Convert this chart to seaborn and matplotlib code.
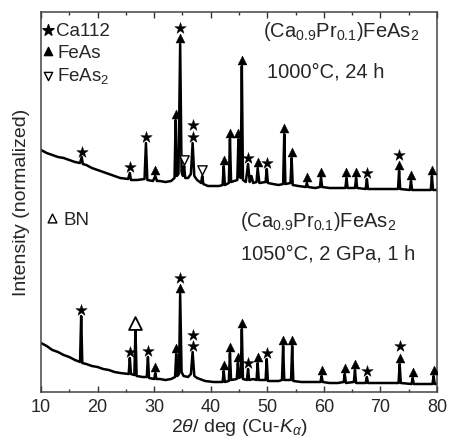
import numpy as np
import pandas as pd
import matplotlib
matplotlib.use("Agg")
import matplotlib.pyplot as plt
import seaborn as sns

# ---------------- data ----------------
# upper pattern: (Ca0.9Pr0.1)FeAs2, 1000 C, 24 h
tt_top = [10.0, 11.0, 12.0, 13.0, 14.0, 15.0, 16.0, 16.9, 17.2, 17.4, 18.0, 19.0,
          20.0, 21.0, 22.0, 23.0, 24.0, 25.4, 25.7, 25.9, 27.0, 28.3, 28.55, 28.8,
          29.8, 30.2, 30.5, 31.0, 32.0, 33.0, 33.6, 33.8, 34.0, 34.3, 34.6, 34.85,
          35.1, 35.3, 35.5, 36.0, 36.5, 36.8, 37.1, 37.6, 38.3, 38.5, 38.7, 39.5,
          40.5, 41.5, 42.1, 42.3, 42.5, 43.2, 43.4, 43.6, 44.7, 44.9, 45.1, 45.3,
          45.5, 45.7, 46.2, 46.6, 46.9, 47.2, 47.5, 48.1, 48.3, 48.6, 49.7, 49.9,
          50.1, 51.0, 52.0, 52.8, 53.0, 53.2, 54.1, 54.3, 54.5, 55.5, 56.8, 57.0,
          57.2, 58.5, 59.3, 59.5, 59.7, 61.0, 62.5, 63.8, 64.0, 64.2, 65.5, 65.7,
          65.9, 67.4, 67.6, 67.8, 69.0, 70.5, 72.0, 73.1, 73.3, 73.5, 75.2, 75.4,
          75.6, 77.0, 78.9, 79.1, 79.3, 80.0]
int_top = [242, 239, 237, 235, 234, 232, 230, 229, 235, 228, 227, 224,
           222, 220, 218, 216, 214, 213, 219, 212, 212, 213, 249, 212,
           211, 216, 211, 211, 210, 211, 214, 272, 216, 218, 348, 220,
           216, 226, 214, 214, 218, 249, 216, 212, 209, 216, 208, 206,
           206, 206, 207, 226, 207, 209, 253, 210, 212, 253, 215, 214,
           326, 212, 210, 228, 210, 216, 209, 210, 224, 209, 210, 223,
           209, 208, 207, 208, 258, 208, 209, 234, 207, 206, 205, 209,
           205, 204, 205, 214, 205, 204, 204, 204, 214, 204, 204, 214,
           204, 203, 213, 203, 203, 203, 203, 203, 221, 203, 202, 211,
           202, 202, 202, 216, 202, 202]

# lower pattern: (Ca0.9Pr0.1)FeAs2, 1050 C, 2 GPa, 1 h
tt_bot = [10.0, 11.0, 12.0, 13.0, 14.0, 15.0, 16.0, 16.9, 17.1, 17.3, 18.0, 19.0,
          20.0, 21.0, 22.0, 23.0, 24.0, 25.5, 25.7, 25.9, 26.5, 26.7, 26.9, 28.0,
          28.7, 28.9, 29.1, 30.0, 30.2, 30.4, 31.0, 32.0, 33.0, 33.7, 33.9, 34.1,
          34.4, 34.6, 34.85, 35.2, 36.0, 36.5, 36.8, 37.1, 37.6, 39.0, 40.5, 42.1,
          42.3, 42.5, 43.2, 43.4, 43.6, 44.6, 44.8, 45.0, 45.3, 45.5, 45.7, 46.4,
          46.6, 46.8, 47.5, 48.1, 48.3, 48.5, 49.7, 49.9, 50.1, 51.0, 52.0, 52.6,
          52.8, 53.0, 54.2, 54.4, 54.6, 56.0, 58.0, 59.4, 59.6, 59.8, 61.0, 62.5,
          63.5, 63.7, 63.9, 65.3, 65.5, 65.7, 67.4, 67.6, 67.8, 69.0, 70.5, 72.0,
          73.2, 73.4, 73.6, 75.5, 75.7, 75.9, 77.0, 79.2, 79.4, 79.6, 80.0]
int_bot = [49, 46, 42, 40, 37, 35, 32, 30, 76, 29, 28, 26,
           25, 23, 22, 20, 19, 18, 34, 18, 17, 63, 16, 15,
           15, 35, 14, 13, 19, 13, 13, 12, 13, 15, 38, 16,
           18, 98, 20, 16, 15, 18, 40, 16, 14, 11, 10, 10,
           21, 10, 11, 39, 12, 13, 29, 14, 15, 63, 13, 12,
           23, 12, 13, 12, 29, 12, 12, 33, 11, 11, 11, 12,
           46, 12, 12, 46, 11, 10, 10, 10, 16, 10, 9, 9,
           10, 18, 9, 10, 22, 9, 9, 15, 9, 9, 9, 9,
           9, 28, 9, 8, 14, 8, 8, 8, 16, 8, 8]

# phase markers (2theta, height)
ca112_x = [17.2, 25.7, 28.55, 34.6, 36.8, 36.8, 46.6, 49.9, 67.6, 73.3,
           17.1, 25.7, 28.9, 34.6, 36.8, 36.8, 46.6, 49.9, 67.6, 73.4]
ca112_y = [240, 225, 255, 364, 267, 255, 234, 229, 219, 237,
           82, 40, 41, 114, 57, 46, 29, 39, 21, 46]
feas_x = [30.2, 33.8, 34.6, 42.3, 43.4, 44.9, 45.5, 48.3, 53.0, 54.3, 57.0, 59.5,
          64.0, 65.7, 73.3, 75.4, 79.1,
          30.2, 33.9, 34.6, 42.3, 43.4, 44.8, 45.5, 48.3, 52.8, 54.4, 59.6, 63.7,
          65.5, 73.4, 75.7, 79.4]
feas_y = [222, 278, 354, 232, 259, 259, 332, 230, 264, 240, 215, 220,
          220, 220, 227, 217, 222,
          25, 44, 104, 27, 45, 35, 69, 35, 52, 52, 22, 24,
          28, 34, 20, 22]
feas2_x = [35.3, 38.5]
feas2_y = [232, 222]
bn_x = [26.7]
bn_y = [69]

# ---------------- plotting ----------------
sns.set_theme(style="white")
plt.rcParams["font.family"] = ["Liberation Sans", "DejaVu Sans"]
plt.rcParams["mathtext.fontset"] = "custom"
plt.rcParams["mathtext.rm"] = "Liberation Sans"
plt.rcParams["mathtext.it"] = "Liberation Sans:italic"

fig = plt.figure(figsize=(4.53, 4.43), dpi=100)
ax = fig.add_axes([41 / 453, 1 - 392 / 443, (437 - 41) / 453, (392 - 12) / 443])

df_top = pd.DataFrame({"tt": tt_top, "I": int_top})
df_bot = pd.DataFrame({"tt": tt_bot, "I": int_bot})
sns.lineplot(data=df_top, x="tt", y="I", ax=ax, color="black", lw=1.8,
             estimator=None, sort=False)
sns.lineplot(data=df_bot, x="tt", y="I", ax=ax, color="black", lw=1.8,
             estimator=None, sort=False)

sns.scatterplot(x=ca112_x, y=ca112_y, ax=ax, marker="*", s=75, color="black",
                edgecolor="black", linewidth=0.3, zorder=5)
sns.scatterplot(x=feas_x, y=feas_y, ax=ax, marker="^", s=42, color="black",
                edgecolor="black", linewidth=0.3, zorder=5)
sns.scatterplot(x=feas2_x, y=feas2_y, ax=ax, marker="v", s=45, facecolor="white",
                edgecolor="black", linewidth=1.0, zorder=5)
sns.scatterplot(x=bn_x, y=bn_y, ax=ax, marker="^", s=85, facecolor="white",
                edgecolor="black", linewidth=1.3, zorder=5)

ax.set_xlim(10, 80)
ax.set_ylim(0, 380)
ax.set_xticks([10, 20, 30, 40, 50, 60, 70, 80])
ax.set_xticks(np.arange(15, 80, 10), minor=True)
ax.set_yticks([])
ax.tick_params(axis="x", which="major", direction="in", length=4, width=1,
               top=True, bottom=True, labelsize=13, pad=5, color="#333333")
ax.tick_params(axis="x", which="minor", direction="in", length=2.5, width=1,
               top=True, bottom=True, color="#333333")
for sp in ax.spines.values():
    sp.set_color("#444444")
    sp.set_linewidth(1.1)

ax.set_xlabel(r"2$\it{\theta}$/ deg (Cu-$\it{K}_\alpha$)", fontsize=14, labelpad=1)
ax.set_ylabel("Intensity (normalized)", fontsize=14, labelpad=8)

# legend-like labels
ax.scatter([11.3], [362], marker="*", s=70, color="black", zorder=5)
ax.text(12.7, 355.5, "Ca112", fontsize=13.5, va="baseline")
ax.scatter([11.3], [341], marker="^", s=35, color="black", zorder=5)
ax.text(12.9, 334.5, "FeAs", fontsize=13.5, va="baseline")
ax.scatter([11.3], [316], marker="v", s=35, facecolor="white", edgecolor="black",
           linewidth=1.0, zorder=5)
ax.text(12.9, 311, r"FeAs$_2$", fontsize=13.5, va="baseline")
ax.scatter([12.0], [174], marker="^", s=40, facecolor="white", edgecolor="black",
           linewidth=1.0, zorder=5)
ax.text(14.0, 167.5, "BN", fontsize=13.5, va="baseline")

ax.text(49.2, 355, r"(Ca$_{0.9}$Pr$_{0.1}$)FeAs$_2$", fontsize=14.5, va="baseline")
ax.text(49.9, 314, "1000°C, 24 h", fontsize=14.5, va="baseline")
ax.text(45.2, 165, r"(Ca$_{0.9}$Pr$_{0.1}$)FeAs$_2$", fontsize=14.5, va="baseline")
ax.text(45.3, 132, "1050°C, 2 GPa, 1 h", fontsize=14.5, va="baseline")

fig.savefig("out.png", dpi=100)
